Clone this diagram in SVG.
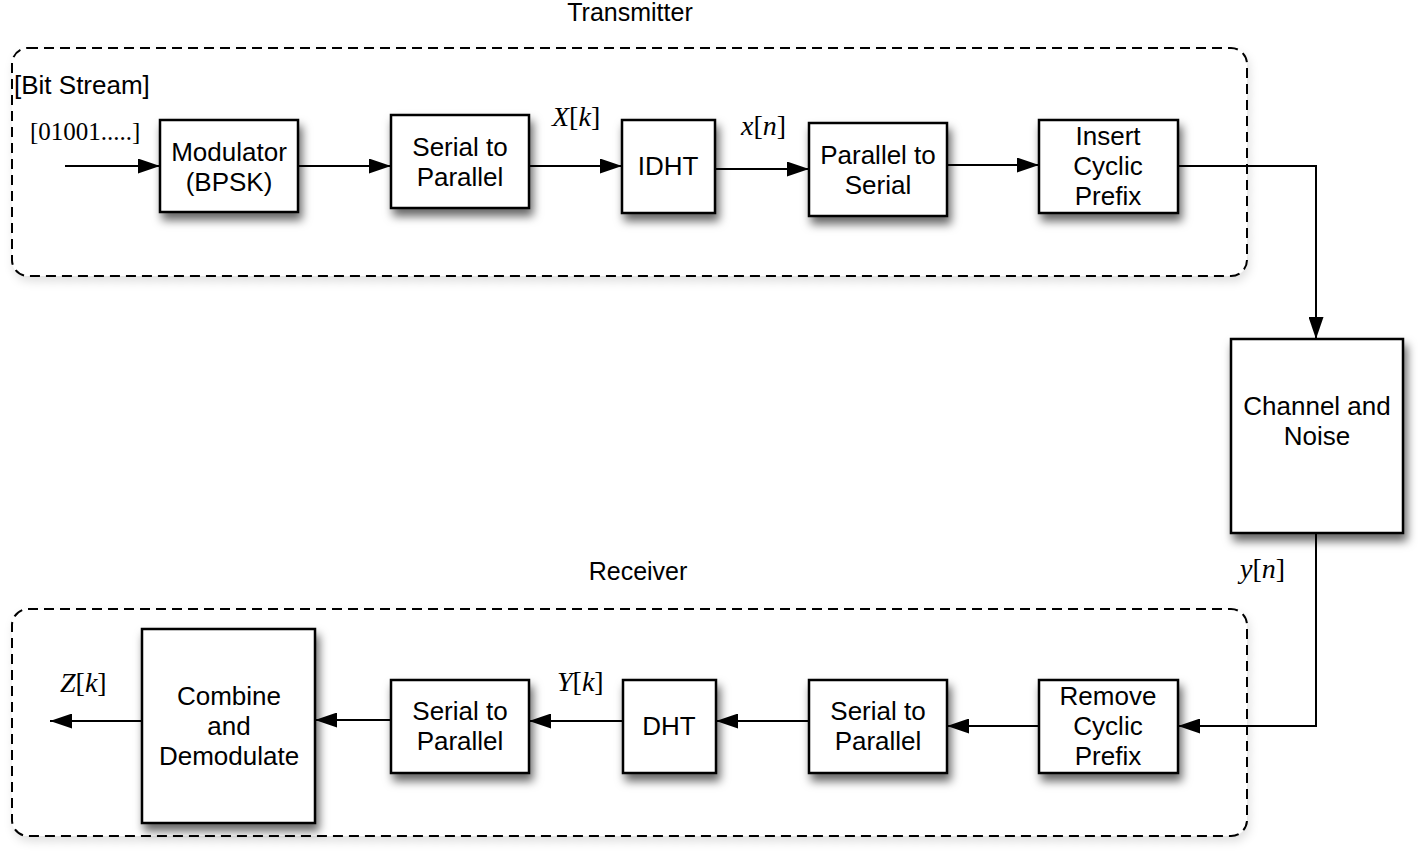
<svg xmlns="http://www.w3.org/2000/svg" width="1418" height="858" viewBox="0 0 1418 858">
<style>
.box{fill:#fff;stroke:#000;stroke-width:2.5;filter:url(#sh)}
.grp{fill:#fff;stroke:#000;stroke-width:2;stroke-dasharray:10 6;filter:url(#sh2)}
.lbl{font-family:"Liberation Sans",Arial,sans-serif;font-size:26px;text-anchor:middle;fill:#000}
.math{font-family:"Liberation Serif","Times New Roman",serif;font-size:28px;fill:#000}
.it{font-style:italic}
.conn{fill:none;stroke:#000;stroke-width:2}
</style>
<defs>
<filter id="sh" x="-20%" y="-20%" width="150%" height="150%">
<feDropShadow dx="3" dy="7" stdDeviation="5" flood-color="#000" flood-opacity="0.6"/>
</filter>
<filter id="sh2" x="-5%" y="-10%" width="110%" height="130%">
<feDropShadow dx="2" dy="5" stdDeviation="5" flood-color="#000" flood-opacity="0.12"/>
</filter>
<marker id="arr" viewBox="0 0 22 15" refX="22" refY="7.5" markerWidth="22" markerHeight="15" markerUnits="userSpaceOnUse" orient="auto">
<path d="M0,0 L22,7.5 L0,15 z" fill="#000"/>
</marker>
</defs>
<rect width="1418" height="858" fill="#fff"/>

<g id="transmitter">
<rect class="grp" x="12" y="48" width="1235" height="228" rx="16"/>
<text class="lbl" x="630" y="21" style="font-size:25px">Transmitter</text>
<text class="lbl" x="14" y="94" style="text-anchor:start">[Bit Stream]</text>
</g>
<g id="receiver">
<rect class="grp" x="12" y="609" width="1235" height="227" rx="16"/>
<text class="lbl" x="638" y="580" style="font-size:25px">Receiver</text>
</g>

<g id="connectors">
<line class="conn" x1="65" y1="166" x2="160" y2="166" marker-end="url(#arr)"/>
<line class="conn" x1="298" y1="166" x2="391" y2="166" marker-end="url(#arr)"/>
<line class="conn" x1="529" y1="166" x2="622" y2="166" marker-end="url(#arr)"/>
<line class="conn" x1="715" y1="169" x2="809" y2="169" marker-end="url(#arr)"/>
<line class="conn" x1="947" y1="165" x2="1039" y2="165" marker-end="url(#arr)"/>
<polyline class="conn" points="1178,166 1316,166 1316,339" marker-end="url(#arr)"/>
<polyline class="conn" points="1316,533 1316,726 1178,726" marker-end="url(#arr)"/>
<line class="conn" x1="1039" y1="726" x2="947" y2="726" marker-end="url(#arr)"/>
<line class="conn" x1="809" y1="721" x2="716" y2="721" marker-end="url(#arr)"/>
<line class="conn" x1="623" y1="721" x2="529" y2="721" marker-end="url(#arr)"/>
<line class="conn" x1="391" y1="720" x2="315" y2="720" marker-end="url(#arr)"/>
<line class="conn" x1="142" y1="721" x2="50" y2="721" marker-end="url(#arr)"/>
</g>

<g id="labels">
<text class="math" x="30" y="140" style="font-size:25px">[01001.....]</text>
<text class="math" x="552" y="126"><tspan class="it">X</tspan>[<tspan class="it">k</tspan>]</text>
<text class="math" x="741" y="135"><tspan class="it">x</tspan>[<tspan class="it">n</tspan>]</text>
<text class="math" x="1240" y="578"><tspan class="it">y</tspan>[<tspan class="it">n</tspan>]</text>
<text class="math" x="557" y="691"><tspan class="it">Y</tspan>[<tspan class="it">k</tspan>]</text>
<text class="math" x="60" y="692"><tspan class="it">Z</tspan>[<tspan class="it">k</tspan>]</text>
</g>

<g id="modulator">
<rect class="box" x="160" y="120" width="138" height="92"/>
<text class="lbl" x="229" y="161">Modulator</text>
<text class="lbl" x="229" y="191">(BPSK)</text>
</g>
<g id="s2p-tx">
<rect class="box" x="391" y="115" width="138" height="93"/>
<text class="lbl" x="460" y="156">Serial to</text>
<text class="lbl" x="460" y="186">Parallel</text>
</g>
<g id="idht">
<rect class="box" x="622" y="120" width="93" height="93"/>
<text class="lbl" x="668" y="175">IDHT</text>
</g>
<g id="p2s">
<rect class="box" x="809" y="123" width="138" height="93"/>
<text class="lbl" x="878" y="164">Parallel to</text>
<text class="lbl" x="878" y="194">Serial</text>
</g>
<g id="insert-cp">
<rect class="box" x="1039" y="120" width="139" height="93"/>
<text class="lbl" x="1108" y="145">Insert</text>
<text class="lbl" x="1108" y="175">Cyclic</text>
<text class="lbl" x="1108" y="205">Prefix</text>
</g>
<g id="channel">
<rect class="box" x="1231" y="339" width="172" height="194"/>
<text class="lbl" x="1317" y="415">Channel and</text>
<text class="lbl" x="1317" y="445">Noise</text>
</g>
<g id="remove-cp">
<rect class="box" x="1039" y="680" width="139" height="93"/>
<text class="lbl" x="1108" y="705">Remove</text>
<text class="lbl" x="1108" y="735">Cyclic</text>
<text class="lbl" x="1108" y="765">Prefix</text>
</g>
<g id="s2p-rx2">
<rect class="box" x="809" y="680" width="138" height="93"/>
<text class="lbl" x="878" y="720">Serial to</text>
<text class="lbl" x="878" y="750">Parallel</text>
</g>
<g id="dht">
<rect class="box" x="623" y="680" width="93" height="93"/>
<text class="lbl" x="669" y="735">DHT</text>
</g>
<g id="s2p-rx1">
<rect class="box" x="391" y="680" width="138" height="93"/>
<text class="lbl" x="460" y="720">Serial to</text>
<text class="lbl" x="460" y="750">Parallel</text>
</g>
<g id="combine">
<rect class="box" x="142" y="629" width="173" height="194"/>
<text class="lbl" x="229" y="705">Combine</text>
<text class="lbl" x="229" y="735">and</text>
<text class="lbl" x="229" y="765">Demodulate</text>
</g>
</svg>
